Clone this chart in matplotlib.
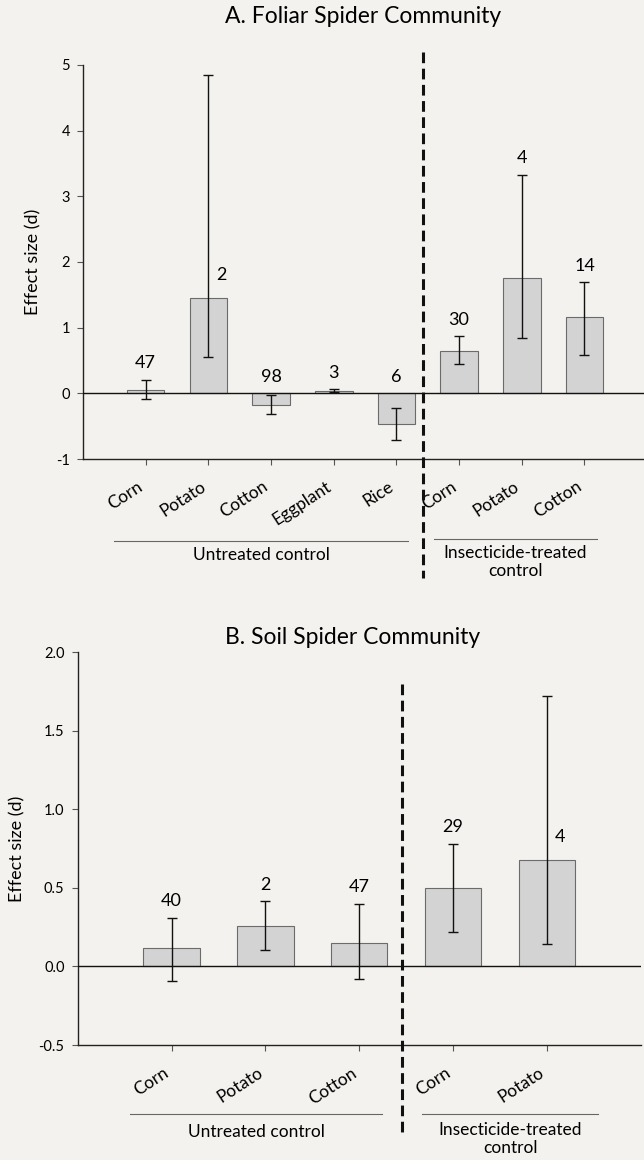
import numpy as np
import matplotlib
matplotlib.use('Agg')
import matplotlib.pyplot as plt
from matplotlib.transforms import ScaledTranslation, blended_transform_factory

plt.rcParams['font.family'] = ['Lato', 'DejaVu Sans']
plt.rcParams['axes.unicode_minus'] = False

paper = '#f3f2ee'

# A. Foliar spider community
a_crops = ['Corn', 'Potato', 'Cotton', 'Eggplant', 'Rice', 'Corn', 'Potato', 'Cotton']
a_mean = [0.05, 1.45, -0.17, 0.04, -0.47, 0.65, 1.75, 1.16]
a_low = [-0.08, 0.55, -0.31, 0.02, -0.71, 0.44, 0.84, 0.58]
a_high = [0.21, 4.84, -0.02, 0.06, -0.23, 0.87, 3.33, 1.69]
a_n = ['47', '2', '98', '3', '6', '30', '4', '14']
a_yticks = [-1, 0, 1, 2, 3, 4, 5]

# B. Soil spider community
b_crops = ['Corn', 'Potato', 'Cotton', 'Corn', 'Potato']
b_mean = [0.12, 0.26, 0.15, 0.50, 0.675]
b_low = [-0.09, 0.105, -0.08, 0.22, 0.14]
b_high = [0.31, 0.415, 0.40, 0.78, 1.72]
b_n = ['40', '2', '47', '29', '4']
b_yticks = [-0.5, 0.0, 0.5, 1.0, 1.5, 2.0]

groups = ['Untreated control', 'Insecticide-treated\ncontrol']

fig = plt.figure(figsize=(6.44, 11.6), dpi=100, facecolor=paper)


def panel(rect, title, crops, mean, low, high, n, yticks, fmt, xmax,
          split, beside, spans, dash, title_xy, ylab_x, line_y, text_y):
    ax = fig.add_axes(rect, facecolor=paper)
    x = np.arange(1, len(crops) + 1)
    mean = np.array(mean)
    err = [mean - np.array(low), np.array(high) - mean]

    ax.bar(x, mean, width=0.6, color='#d3d3d3', edgecolor='#6b6b6b',
           linewidth=0.8, zorder=2)
    ax.errorbar(x, mean, yerr=err, fmt='none', ecolor='#111111',
                elinewidth=1, capsize=3.5, capthick=1, zorder=3)
    ax.axhline(0, color='#111111', lw=1, zorder=4)

    for xi, m, hi, lab, bs in zip(x, mean, high, n, beside):
        if bs:
            ax.annotate(lab, (xi, m), xytext=(9.5, 16.5), textcoords='offset points',
                        ha='center', va='center', fontsize=13)
        else:
            ax.annotate(lab, (xi, max(hi, 0)), xytext=(0, 12),
                        textcoords='offset points', ha='center', va='center',
                        fontsize=13)

    ax.set_xlim(0, xmax)
    ax.set_ylim(yticks[0], yticks[-1])
    ax.set_yticks(yticks)
    ax.set_yticklabels([fmt.format(v) for v in yticks])
    ax.set_xticks(x)
    ax.set_xticklabels(crops, rotation=33, ha='right', va='top', fontsize=12.5)
    shift = ScaledTranslation(0.11, 0, fig.dpi_scale_trans)
    for lbl in ax.get_xticklabels():
        lbl.set_transform(lbl.get_transform() + shift)

    for s in ['top', 'right']:
        ax.spines[s].set_visible(False)
    for s in ['left', 'bottom']:
        ax.spines[s].set_color('#222222')
        ax.spines[s].set_linewidth(1)
    ax.tick_params(axis='y', direction='out', length=4.5, width=0.8,
                   color='#555555', labelsize=10.5, pad=5)
    ax.tick_params(axis='x', direction='out', length=4, width=0.8,
                   color='#555555', pad=10)

    ax.set_ylabel('Effect size (d)', fontsize=13)
    ax.yaxis.set_label_coords(ylab_x, 0.5)
    ax.text(title_xy[0], title_xy[1], title, transform=ax.transAxes,
            ha='center', va='center', fontsize=16.5)

    trans = blended_transform_factory(ax.transData, ax.transAxes)
    ax.plot([split, split], dash, transform=trans, clip_on=False,
            color='#111111', lw=2.2, dashes=(3.5, 1.8), zorder=5)
    for (x0, x1), g, ly, ty in zip(spans, groups, line_y, text_y):
        ax.plot([x0, x1], [ly, ly], transform=trans, clip_on=False,
                color='#666666', lw=0.8)
        ax.text((x0 + x1) / 2, ty, g, transform=trans, ha='center',
                va='center', fontsize=12.5, linespacing=1.2)
    return ax


panel([0.1289, 0.6043, 0.8711, 0.3397], 'A. Foliar Spider Community',
      a_crops, a_mean, a_low, a_high, a_n, a_yticks, '{:g}', 8.95,
      5.43, [False, True, False, False, False, False, False, False],
      [(0.5, 5.18), (5.6, 8.2)], [1.033, -0.301], (0.5, 1.122), -0.074,
      [-0.209, -0.203], [-0.243, -0.261])

panel([0.1208, 0.0991, 0.874, 0.3388], 'B. Soil Spider Community',
      b_crops, b_mean, b_low, b_high, b_n, b_yticks, '{:.1f}', 6,
      3.46, [False, False, False, False, True],
      [(0.56, 3.24), (3.67, 5.545)], [0.919, -0.234], (0.489, 1.037), -0.093,
      [-0.176, -0.176], [-0.222, -0.2395])

fig.savefig('out.png', dpi=100, facecolor=paper)
